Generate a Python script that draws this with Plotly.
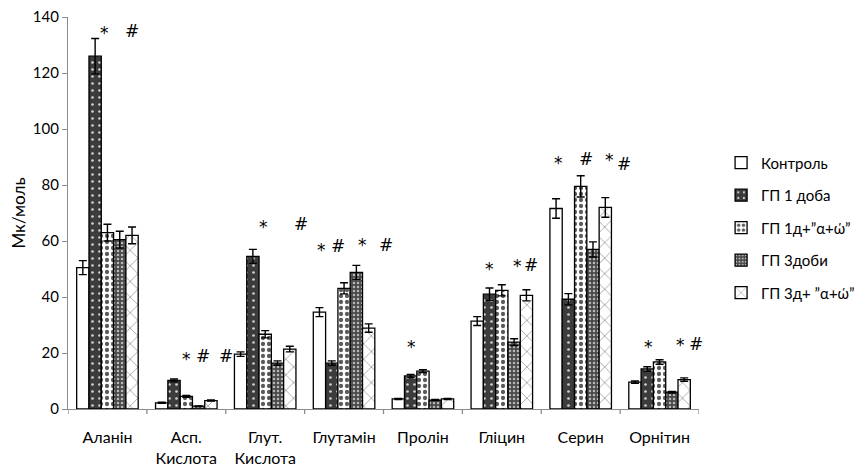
import plotly.graph_objects as go

categories = ["Аланін", "Асп.<br>Кислота", "Глут.<br>Кислота", "Глутамін",
              "Пролін", "Гліцин", "Серин", "Орнітин"]

series_names = ["Контроль", "ГП 1 доба", "ГП 1д+”α+ώ”", "ГП 3доби", "ГП 3д+ ”α+ώ”"]

control = [50.5, 2.2, 19.6, 34.6, 3.6, 31.4, 71.6, 9.6]
gp1 = [126.0, 10.2, 54.5, 16.4, 11.8, 41.0, 39.2, 14.3]
gp1_aw = [63.0, 4.5, 26.7, 43.1, 13.5, 42.4, 79.5, 16.8]
gp3 = [60.5, 1.0, 16.4, 48.8, 3.2, 23.9, 57.0, 6.0]
gp3_aw = [62.0, 3.0, 21.4, 28.9, 3.6, 40.6, 72.0, 10.5]

control_err = [2.5, 0.2, 0.8, 1.6, 0.2, 1.6, 3.5, 0.4]
gp1_err = [6.3, 0.5, 2.5, 0.8, 0.5, 2.2, 2.0, 0.8]
gp1_aw_err = [3.0, 0.3, 1.3, 2.0, 0.5, 2.0, 3.8, 0.8]
gp3_err = [3.0, 0.1, 0.8, 2.5, 0.2, 1.2, 2.7, 0.3]
gp3_aw_err = [3.0, 0.2, 1.0, 1.5, 0.2, 2.0, 3.5, 0.6]

# significance marks: (symbol, category position, height in Мк/моль)
marks = [
    ("*", -0.04, 134.4), ("#", 0.31, 134.9),
    ("*", 1.0, 17.7), ("#", 1.21, 19.1), ("#", 1.5, 19.1),
    ("*", 1.98, 65.1), ("#", 2.45, 65.9),
    ("*", 2.72, 56.9), ("#", 2.92, 58.3), ("*", 3.23, 58.5), ("#", 3.53, 58.7),
    ("*", 3.85, 22.3),
    ("*", 4.84, 50.1), ("*", 5.20, 51.2), ("#", 5.37, 51.6),
    ("*", 5.72, 87.9), ("#", 6.07, 89.4), ("*", 6.36, 89.0), ("#", 6.55, 87.6),
    ("*", 6.86, 22.3), ("*", 7.27, 22.7), ("#", 7.46, 23.1),
]

values = [control, gp1, gp1_aw, gp3, gp3_aw]
errors = [control_err, gp1_err, gp1_aw_err, gp3_err, gp3_aw_err]

patterns = [
    dict(shape=""),
    dict(shape=".", bgcolor="#3c3c3c", fgcolor="#cfcfcf", size=7, solidity=0.12, fillmode="replace"),
    dict(shape=".", bgcolor="#ffffff", fgcolor="#5a5a5a", size=6, solidity=0.4, fillmode="replace"),
    dict(shape=".", bgcolor="#4a4a4a", fgcolor="#b8b8b8", size=4, solidity=0.3, fillmode="replace"),
    dict(shape="x", bgcolor="#ffffff", fgcolor="#8a8a8a", size=11, solidity=0.12, fillmode="replace"),
]

fig = go.Figure()
for name, vals, errs, pat in zip(series_names, values, errors, patterns):
    fig.add_trace(go.Bar(
        name=name,
        x=list(range(len(categories))),
        y=vals,
        legendgroup=name,
        marker=dict(color="#ffffff", line=dict(color="#000000", width=1.3), pattern=pat),
        error_y=dict(type="data", array=errs, visible=True, color="#000000",
                     thickness=1.4, width=4),
    ))

for sym, xpos, ypos in marks:
    fig.add_annotation(x=xpos, y=ypos, xref="x", yref="y", text=sym, showarrow=False,
                       font=dict(size=17, color="#000000", family="DejaVu Sans"),
                       xanchor="center", yanchor="middle")

fig.update_layout(
    width=865, height=469,
    margin=dict(l=68, r=166, t=17, b=60, autoexpand=False),
    paper_bgcolor="#ffffff", plot_bgcolor="#ffffff",
    font=dict(family="Lato, Open Sans, sans-serif", size=15, color="#000000"),
    barmode="group", bargap=0.22, bargroupgap=0,
    showlegend=True,
    legend=dict(x=1.035, y=0.462, xanchor="left", yanchor="middle",
                font=dict(size=15), tracegroupgap=10, itemwidth=30),
)
fig.update_xaxes(
    tickmode="array", tickvals=list(range(len(categories))), ticktext=categories,
    range=[-0.5, len(categories) - 0.5],
    tickfont=dict(size=16), ticklabelstandoff=14,
    showline=True, linecolor="#8c8c8c", linewidth=1.3,
    ticks="", showgrid=False, zeroline=False,
)
# category boundary ticks below the axis
for i in range(len(categories) + 1):
    fig.add_shape(type="line", xref="x", yref="paper", x0=i - 0.5, x1=i - 0.5,
                  y0=0, y1=-0.013, line=dict(color="#8c8c8c", width=1.3))
fig.update_yaxes(
    range=[0, 140], dtick=20, showline=True, linecolor="#8c8c8c", linewidth=1.3,
    ticks="outside", ticklen=5, tickcolor="#8c8c8c", showgrid=False, zeroline=False,
    tickfont=dict(size=15),
    title=dict(text="Мк/моль", standoff=2, font=dict(size=17)),
)

fig.write_html("out.html")
